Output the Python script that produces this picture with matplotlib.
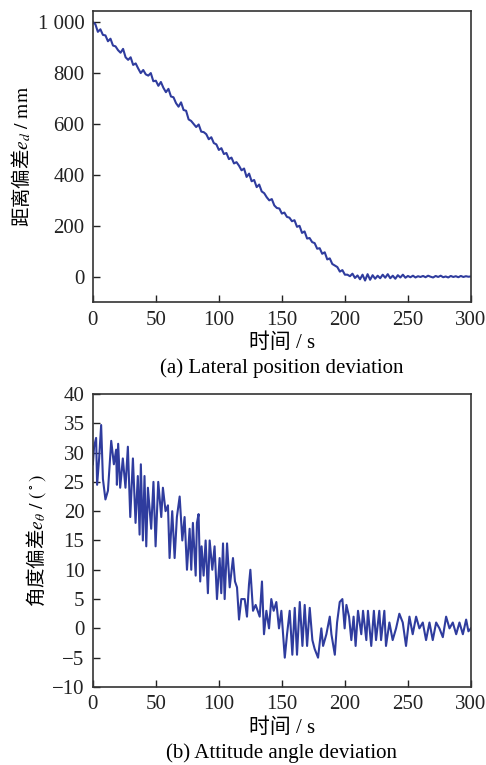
import numpy as np
import matplotlib
matplotlib.use('Agg')
import matplotlib.pyplot as plt
from matplotlib.ticker import FuncFormatter

plt.rcParams['font.family'] = ['Liberation Serif', 'Noto Sans CJK SC']
plt.rcParams['mathtext.fontset'] = 'stix'
plt.rcParams['axes.unicode_minus'] = True

# (a) lateral position deviation, sampled every 2 s
t_top = np.arange(0, 301, 2)
ed = [1000, 992, 962, 972, 950, 948, 925, 935, 908, 905,
      890, 880, 895, 862, 852, 862, 832, 838, 818, 800,
      812, 795, 790, 800, 768, 770, 750, 765, 742, 725,
      738, 708, 705, 682, 668, 685, 655, 652, 618, 612,
      600, 588, 598, 570, 568, 560, 540, 548, 525, 520,
      498, 505, 482, 486, 462, 468, 445, 450, 436, 418,
      425, 392, 405, 375, 380, 352, 362, 335, 328, 312,
      300, 305, 280, 270, 268, 248, 252, 235, 232, 218,
      222, 196, 200, 172, 178, 150, 152, 136, 132, 110,
      112, 90, 96, 68, 72, 50, 44, 38, 20, 26,
      8, 8, 2, 12, -5, 5, -10, 8, -15, 10,
      -12, 6, -8, 4, -6, 8, -4, 10, -6, 4,
      -8, 6, -3, 8, -4, 3, -2, 4, -3, 2,
      -1, 3, -2, 4, 0, -3, 3, -1, 4, -2,
      1, -3, 3, -1, 2, -2, 3, -1, 2, 0, 1]

# (b) attitude angle deviation
t_bot = [0, 1, 2.6, 3.4, 5, 6.6, 8, 10, 12, 14.6,
         16.7, 18.5, 19.1, 20.1, 21.7, 23.8, 25.9, 27.8, 29.7, 31.8,
         33.9, 35.7, 37.1, 38.1, 39.7, 41, 42.4, 43.7, 46.3, 48.1,
         49.8, 51.9, 54.3, 55.6, 57.7, 59.6, 60.9, 63.0, 64.9, 66.7,
         68.9, 71, 72.8, 74.7, 76.8, 78.1, 79.4, 81.6, 82.6, 83.9,
         85.2, 86.3, 87.9, 89.5, 91.3, 92.7, 94.8, 96.6, 98.5, 100.6,
         101.9, 103.3, 104.6, 106.5, 108.6, 111.2, 112.8, 114.4, 116, 117.8,
         120.5, 122.3, 123.9, 125, 127.1, 129.2, 132.4, 134.2, 135.8, 137.7,
         139.8, 141.6, 143.5, 145.6, 147.7, 149.6, 152.3, 154.1, 156.2, 158.3,
         160.2, 162.0, 164.2, 166.3, 168.1, 170.0, 172.1, 174.2, 176.0, 178.7,
         181.3, 182.7, 185.3, 188.0, 189.3, 192.0, 193.8, 195.9, 198.0, 199.8,
         201.2, 203.3, 205.1, 206.9, 208.5, 210.4, 213.0, 214.4, 217.0, 218.3,
         220.9, 223.0, 224.7, 227.3, 228.7, 231.3, 232.6, 235.3, 237.9, 240.6,
         243.2, 245.9, 248.5, 251.2, 253.8, 256.5, 259.1, 261.8, 264.4, 267.1,
         269.7, 272.4, 275.0, 277.7, 280.3, 283.0, 285.6, 288.3, 290.9, 293.6,
         296.2, 298.0, 300]
etheta = [28, 31, 32.5, 24.5, 29, 34.7, 25.5, 22, 23.5, 32,
          28, 30.5, 24.5, 31.5, 24, 29, 24, 31, 19, 29,
          18, 26, 16, 28, 15, 26, 14, 24, 17, 25,
          14, 25, 19, 24, 20, 21, 12, 20, 12, 19,
          22.5, 15, 19, 10, 17, 10, 18, 9, 18, 19.5,
          8, 14, 9, 15, 6, 15, 10, 14, 5, 12,
          6, 14.5, 5, 14.5, 7, 12, 8, 7, 1.5, 5,
          5, 2, 7.5, 10, 3, 4, 2, 8, -1, 3,
          0, 5, 3, 4.5, 0, 3, -5, -1, 3, -4.5,
          3.5, -4.5, 4.5, -3, 4, -3, 3.5, -2, -3.5, -5,
          0, -3, -1, 2, -1, -4.5, 1, 4.5, 5, 0,
          4, 2, -2, 2, -3, 3, -1, 3, -2, 3,
          -3, 3, -2, 3, -2, 3, -3, 1, -2, 0,
          2.5, 1, -3, 2, -1, 2, 0, 1, -2, 1,
          -2, 1, 0, -1.5, 2, 0, 1, -1, 1, -1,
          1.5, -0.5, 0]

line_color = '#2f3c9e'
fs = 15

fig = plt.figure(figsize=(4.86, 7.65), dpi=100)
ax1 = fig.add_axes([0.191, 0.605, 0.778, 0.381])
ax2 = fig.add_axes([0.191, 0.102, 0.778, 0.383])

ax1.plot(t_top, ed, color=line_color, lw=1.5)
ax1.set_xlim(0, 300)
ax1.set_ylim(-100, 1045)
ax1.set_yticks(np.arange(0, 1001, 200))
ax1.yaxis.set_major_formatter(FuncFormatter(lambda v, p: '1 000' if v == 1000 else '%d' % v))
ax1.set_ylabel(r'距离偏差$e_d\ /\ \mathrm{mm}$', fontsize=14, family='Noto Sans CJK SC', labelpad=3)
ax1.set_xlabel('时间 / s', fontsize=fs, labelpad=3)

ax2.plot(t_bot, etheta, color=line_color, lw=1.5)
ax2.set_xlim(0, 300)
ax2.set_ylim(-10, 40)
ax2.set_yticks(np.arange(-10, 41, 5))
ax2.set_ylabel(r'角度偏差$e_\theta\ /\ (^\circ)$', fontsize=14, family='Noto Sans CJK SC', labelpad=3)
ax2.set_xlabel('时间 / s', fontsize=fs, labelpad=3)

for ax in (ax1, ax2):
    ax.set_xticks(np.arange(0, 301, 50))
    ax.tick_params(direction='in', length=5, width=1, labelsize=fs, pad=6, colors='#222222')
    for s in ax.spines.values():
        s.set_linewidth(1.2)
        s.set_color('#333333')

fig.text(0.58, 0.519, '(a) Lateral position deviation', ha='center', va='center', fontsize=fs)
fig.text(0.58, 0.015, '(b) Attitude angle deviation', ha='center', va='center', fontsize=fs)

fig.savefig('out.png', dpi=100)
